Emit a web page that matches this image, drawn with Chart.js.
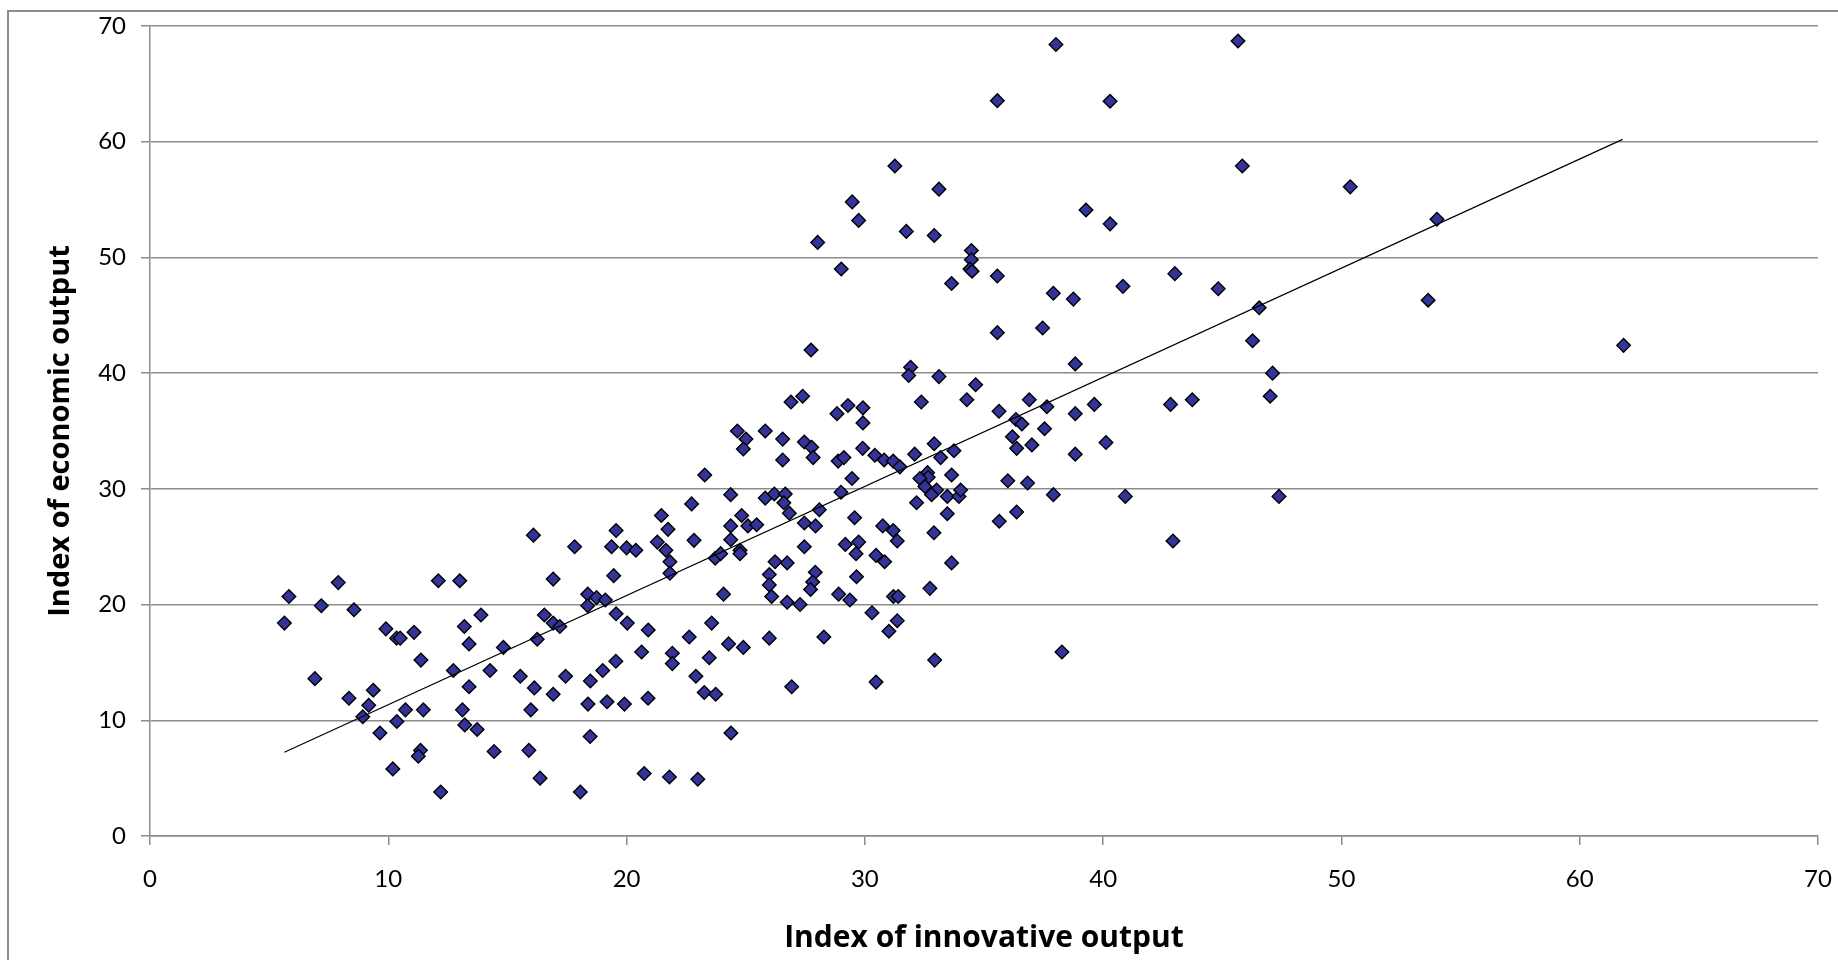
<!DOCTYPE html>
<html lang="en">
<head>
<meta charset="UTF-8">
<title>Innovative vs economic output</title>
<style>
  html, body { margin: 0; padding: 0; background: #fff; overflow: hidden; }
  #wrap { position: relative; width: 1838px; height: 960px; }
  #frame { position: absolute; left: 7px; top: 10px; width: 2000px; height: 2000px;
           border: 2px solid #8c8c8c; box-sizing: border-box; }
  #myChart { position: absolute; left: 0; top: 0; }
</style>
</head>
<body>
<div id="wrap">
  <div id="frame"></div>
  <canvas id="myChart" width="1838" height="960"></canvas>
</div>
<script src="https://cdn.jsdelivr.net/npm/chart.js"></script>
<script>
// index of innovative output (x) / index of economic output (y), one entry per region
const v_x = [
  9.65, 10.36, 10.72, 11.47, 10.19, 11.35, 11.26, 12.2, 13.11, 13.21,
  13.73, 14.44, 15.98, 15.9, 16.37, 18.06, 18.38, 18.47, 19.18, 19.91,
  20.74, 21.8, 22.99, 20.9, 8.93, 9.18, 5.64, 5.83, 7.19, 7.9,
  8.56, 6.92, 8.35, 9.37, 9.9, 10.35, 10.5, 11.08, 11.37, 12.73,
  12.1, 13.0, 16.09, 17.82, 16.92, 13.89, 13.19, 13.39, 14.83, 14.27,
  13.39, 15.54, 16.13, 16.92, 17.44, 16.55, 16.92, 17.2, 16.25, 18.37,
  18.74, 19.11, 18.37, 19.56, 19.37, 20.0, 20.39, 19.46, 19.56, 20.03,
  20.91, 20.63, 19.55, 19.0, 18.48, 21.29, 21.46, 21.74, 21.65, 21.82,
  21.82, 22.73, 22.83, 23.28, 22.63, 21.92, 21.92, 23.57, 22.91, 23.47,
  24.28, 24.9, 23.26, 23.74, 24.07, 23.72, 23.95, 24.37, 24.37, 24.83,
  24.37, 25.09, 25.46, 24.76, 24.76, 24.65, 25.01, 24.9, 25.82, 25.82,
  26.2, 26.23, 25.99, 25.99, 26.09, 25.99, 31.92, 31.84, 33.11, 34.65,
  38.83, 26.9, 27.39, 26.55, 26.55, 27.46, 27.77, 27.83, 28.83, 29.29,
  29.92, 29.92, 32.37, 34.28, 35.63, 36.9, 37.64, 39.63, 38.83, 36.34,
  36.59, 37.54, 36.19, 36.37, 37.01, 38.83, 36.0, 36.83, 37.91, 35.64,
  36.37, 38.27, 32.91, 32.09, 33.18, 33.74, 30.42, 30.81, 31.19, 31.47,
  28.88, 29.12, 29.91, 29.46, 29.0, 26.66, 26.6, 26.83, 28.09, 27.46,
  27.93, 29.57, 27.46, 26.74, 27.92, 27.81, 27.72, 26.74, 27.28, 29.18,
  29.74, 29.63, 29.65, 28.9, 29.37, 30.75, 31.19, 31.36, 30.47, 30.83,
  31.2, 31.4, 32.9, 33.64, 32.73, 32.63, 32.66, 32.31, 32.52, 33.01,
  32.8, 33.64, 33.46, 33.95, 34.02, 32.17, 33.46, 32.93, 28.28, 30.3,
  31.36, 31.01, 26.93, 30.47, 47.11, 47.01, 42.83, 43.74, 40.12, 40.93,
  47.38, 42.93, 38.02, 35.56, 31.26, 33.11, 29.47, 29.74, 39.28, 28.02,
  31.74, 32.91, 34.47, 34.47, 34.41, 34.5, 29.01, 33.64, 35.56, 37.91,
  38.75, 37.46, 35.56, 27.74, 45.66, 40.29, 45.84, 50.37, 40.29, 54.01,
  43.01, 40.83, 44.83, 46.55, 53.64, 46.27, 61.84, 24.38
];
const v_y = [
  8.9, 9.9, 10.9, 10.9, 5.8, 7.4, 6.9, 3.8, 10.9, 9.6,
  9.2, 7.3, 10.9, 7.4, 5.0, 3.8, 11.4, 8.6, 11.6, 11.4,
  5.4, 5.1, 4.9, 11.9, 10.3, 11.3, 18.4, 20.7, 19.9, 21.9,
  19.55, 13.6, 11.9, 12.6, 17.9, 17.1, 17.1, 17.6, 15.2, 14.3,
  22.06, 22.06, 26.0, 25.0, 22.2, 19.1, 18.1, 16.6, 16.3, 14.3,
  12.9, 13.8, 12.8, 12.25, 13.8, 19.1, 18.4, 18.1, 17.0, 20.9,
  20.6, 20.4, 19.9, 26.4, 25.0, 24.9, 24.7, 22.5, 19.2, 18.4,
  17.8, 15.9, 15.1, 14.3, 13.4, 25.4, 27.7, 26.5, 24.7, 23.7,
  22.7, 28.7, 25.55, 31.2, 17.2, 15.8, 14.9, 18.4, 13.8, 15.4,
  16.6, 16.3, 12.4, 12.25, 20.9, 24.0, 24.4, 25.6, 26.8, 27.7,
  29.5, 26.8, 26.9, 24.7, 24.4, 35.0, 34.3, 33.45, 35.0, 29.2,
  29.56, 23.7, 22.6, 21.7, 20.7, 17.1, 40.5, 39.8, 39.7, 39.0,
  40.8, 37.5, 38.0, 34.3, 32.5, 34.05, 33.6, 32.7, 36.5, 37.2,
  37.0, 35.7, 37.5, 37.7, 36.7, 37.7, 37.1, 37.3, 36.5, 36.0,
  35.6, 35.2, 34.5, 33.5, 33.8, 33.0, 30.7, 30.5, 29.5, 27.2,
  28.0, 15.9, 33.9, 33.0, 32.7, 33.3, 32.9, 32.5, 32.4, 31.9,
  32.4, 32.7, 33.5, 30.9, 29.7, 29.56, 28.8, 27.9, 28.2, 27.05,
  26.8, 27.5, 25.0, 23.6, 22.8, 21.95, 21.3, 20.2, 20.0, 25.2,
  25.4, 24.4, 22.4, 20.9, 20.4, 26.8, 26.4, 25.5, 24.25, 23.7,
  20.7, 20.7, 26.2, 23.6, 21.4, 31.4, 31.0, 30.9, 30.2, 29.9,
  29.5, 31.2, 29.35, 29.35, 29.9, 28.8, 27.85, 15.2, 17.2, 19.3,
  18.6, 17.7, 12.9, 13.3, 40.0, 38.0, 37.3, 37.7, 34.0, 29.35,
  29.35, 25.5, 68.4, 63.55, 57.9, 55.9, 54.8, 53.2, 54.1, 51.3,
  52.25, 51.9, 50.6, 49.8, 49.0, 48.8, 49.0, 47.75, 48.4, 46.9,
  46.4, 43.9, 43.5, 42.0, 68.7, 63.5, 57.9, 56.1, 52.9, 53.3,
  48.6, 47.5, 47.3, 45.65, 46.3, 42.8, 42.4, 8.9
];

// linear trend line end points
const v_trendX = [5.64, 61.8];
const v_trendY = [7.24, 60.2];

const v_xTicks = [0, 10, 20, 30, 40, 50, 60, 70];
const v_yTicks = [0, 10, 20, 30, 40, 50, 60, 70];

const v_tickFont = "Lato, 'Open Sans', sans-serif";
const v_titleFont = "'Open Sans', Lato, sans-serif";
const v_gray = "#8c8c8c";

let v_points = v_x.map((x, i) => ({ x: x, y: v_y[i] }));
let v_trend = v_trendX.map((x, i) => ({ x: x, y: v_trendY[i] }));

// keep the plot box fixed: no extra room for overhanging tick labels
function f_fitX(s) {
    s.height = 124;
    s.paddingLeft = 0;
    s.paddingRight = 0;
}
function f_fitY(s) {
    s.width = 150;
    s.paddingTop = 0;
    s.paddingBottom = 0;
}

const ctx = document.getElementById('myChart');
let myChart = new Chart(ctx, {
    type: 'scatter',
    data: {
        datasets: [{
            label: 'regions',
            data: v_points,
            pointStyle: 'rectRot',
            pointRadius: 6.8,
            pointHoverRadius: 6.8,
            pointBackgroundColor: '#333399',
            pointBorderColor: '#000000',
            pointBorderWidth: 1.4,
            order: 1
        }, {
            label: 'trend',
            data: v_trend,
            showLine: true,
            borderColor: '#000000',
            borderWidth: 1.2,
            pointRadius: 0,
            pointHoverRadius: 0,
            order: 0
        }]
    },
    options: {
        responsive: false,
        animation: false,
        devicePixelRatio: 1,
        layout: { padding: { top: 26, right: 20, left: 0, bottom: 0 } },
        plugins: {
            legend: { display: false },
            tooltip: { enabled: false }
        },
        scales: {
            x: {
                type: 'linear',
                min: 0,
                max: 70,
                afterBuildTicks: (s) => { s.ticks = v_xTicks.map(v => ({ value: v })); },
                afterFit: f_fitX,
                grid: { drawOnChartArea: false, drawTicks: true, tickLength: 9, color: v_gray, lineWidth: 1.5 },
                border: { display: true, color: v_gray, width: 1.5 },
                ticks: { color: '#000', padding: 20, font: { family: v_tickFont, size: 24 } },
                title: {
                    display: true,
                    text: 'Index of innovative output',
                    color: '#000',
                    padding: { top: 0, bottom: 4 },
                    font: { family: v_titleFont, size: 30, weight: 'bold' }
                }
            },
            y: {
                type: 'linear',
                min: 0,
                max: 70,
                afterBuildTicks: (s) => { s.ticks = v_yTicks.map(v => ({ value: v })); },
                afterFit: f_fitY,
                grid: { drawOnChartArea: true, drawTicks: true, tickLength: 9, color: v_gray, lineWidth: 1.5 },
                border: { display: true, color: v_gray, width: 1.5 },
                ticks: { color: '#000', padding: 15, font: { family: v_tickFont, size: 24 } },
                title: {
                    display: true,
                    text: 'Index of economic output',
                    color: '#000',
                    padding: { top: 43, bottom: 0 },
                    font: { family: v_titleFont, size: 29, weight: 'bold' }
                }
            }
        }
    }
});
</script>
</body>
</html>
